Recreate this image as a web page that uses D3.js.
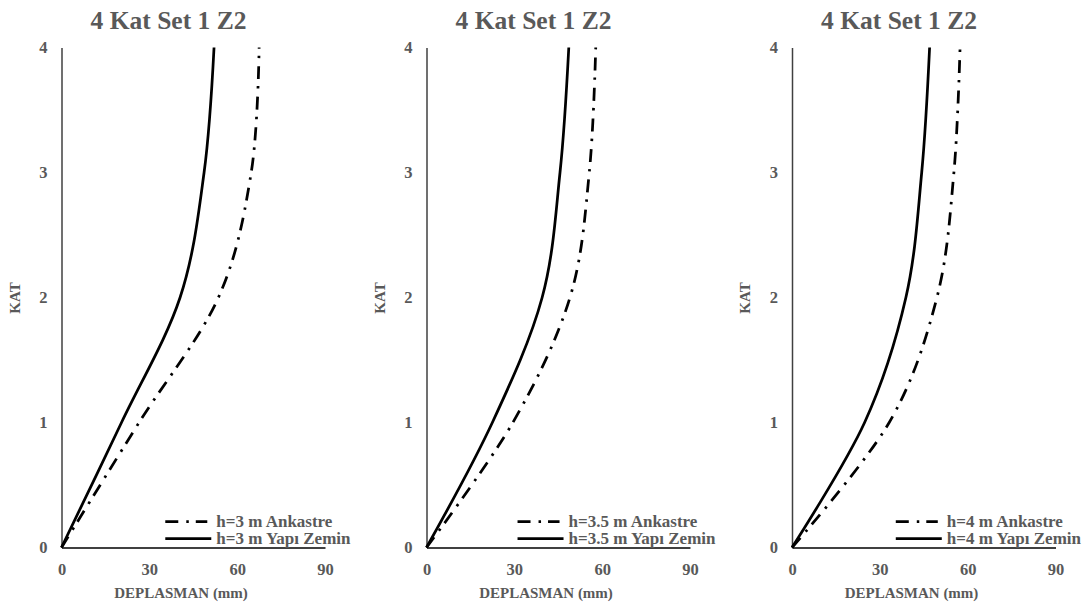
<!DOCTYPE html>
<html><head><meta charset="utf-8">
<script src="https://cdn.jsdelivr.net/npm/d3@7"></script>
<style>body{margin:0;background:#fff}svg{display:block}text{font-family:"Liberation Serif","Times New Roman",serif;font-weight:bold}</style>
</head><body>
<svg id="c" width="1088" height="608"></svg>
<script>
const floors = [0, 1, 2, 3, 4];
const xTicks = [0, 30, 60, 90];
const yTicks = [0, 1, 2, 3, 4];
const titles = ["4 Kat Set 1 Z2", "4 Kat Set 1 Z2", "4 Kat Set 1 Z2"];
const ankastreLabels = ["h=3 m Ankastre", "h=3.5 m Ankastre", "h=4 m Ankastre"];
const zeminLabels = ["h=3 m Yapı Zemin", "h=3.5 m Yapı Zemin", "h=4 m Yapı Zemin"];
const ankastre_h3 = [0, 26.5, 53.6, 64.8, 67.5];
const zemin_h3 = [0, 20.5, 40.5, 48.7, 52.1];
const ankastre_h35 = [0, 29.5, 49.0, 55.6, 57.8];
const zemin_h35 = [0, 22.5, 39.5, 45.6, 48.6];
const ankastre_h4 = [0, 33.2, 49.5, 55.3, 57.4];
const zemin_h4 = [0, 24.8, 38.9, 44.3, 47.0];
const xTitle = "DEPLASMAN (mm)";
const yTitle = "KAT";

const ankastreSeries = [ankastre_h3, ankastre_h35, ankastre_h4];
const zeminSeries = [zemin_h3, zemin_h35, zemin_h4];

const svg = d3.select("#c");
const gray = "#595959";
const x0s = [61.5, 426.5, 792];
const plotW = 263.5;
const yTop = 47.5, yBot = 547.5;
const DASH = "13,8,2.5,7";
const FF = '"Liberation Serif","Times New Roman",serif';

x0s.forEach((x0, i) => {
  const g = svg.append("g");
  const x = d3.scaleLinear().domain([0, 90]).range([x0, x0 + plotW]);
  const y = d3.scaleLinear().domain([0, 4]).range([yBot, yTop]);

  const ya = g.append("g").attr("transform", `translate(${x0},0)`)
    .call(d3.axisLeft(y).tickValues(yTicks).tickSize(0).tickPadding(14).tickFormat(d3.format("d")));
  ya.attr("font-family", null).attr("font-size", null);
  ya.select(".domain").attr("stroke", "#404040").attr("stroke-width", 1.5);
  ya.selectAll("text").attr("fill", gray).style("font-size", "16.5px")
    .style("font-family", FF).style("font-weight", "bold");

  const xa = g.append("g").attr("transform", `translate(0,${yBot})`)
    .call(d3.axisBottom(x).tickValues(xTicks).tickSize(0).tickPadding(16).tickFormat(d3.format("d")));
  xa.attr("font-family", null).attr("font-size", null);
  xa.select(".domain").attr("stroke", "#000").attr("stroke-width", 1.5);
  xa.selectAll("text").attr("fill", gray).style("font-size", "16.5px")
    .style("font-family", FF).style("font-weight", "bold");

  const line = d3.line()
    .x(d => x(d[0])).y(d => y(d[1]))
    .curve(d3.curveCardinal.tension(0));

  g.append("path").datum(ankastreSeries[i].map((v, k) => [v, floors[k]]))
    .attr("d", line).attr("fill", "none").attr("stroke", "#000")
    .attr("stroke-width", 2.75).attr("stroke-dasharray", DASH);
  g.append("path").datum(zeminSeries[i].map((v, k) => [v, floors[k]]))
    .attr("d", line).attr("fill", "none").attr("stroke", "#000")
    .attr("stroke-width", 2.75);

  g.append("text").attr("x", x0 + 107).attr("y", 28.5).attr("text-anchor", "middle")
    .attr("fill", gray).style("font-size", "25.5px").text(titles[i]);
  g.append("text").attr("x", x0 + 119.5).attr("y", 598).attr("text-anchor", "middle")
    .attr("fill", gray).style("font-size", "15px").text(xTitle);
  g.append("text").attr("transform", `translate(${x0 - 42},298) rotate(-90)`)
    .attr("text-anchor", "middle").attr("fill", gray).style("font-size", "15px").text(yTitle);

  const leg = g.append("g");
  const t1 = leg.append("text").attr("y", 521.5).attr("dy", "0.35em").attr("fill", gray)
    .style("font-size", "17px").text(ankastreLabels[i]);
  const t2 = leg.append("text").attr("y", 538.5).attr("dy", "0.35em").attr("fill", gray)
    .style("font-size", "17px").text(zeminLabels[i]);
  const w = Math.max(t1.node().getComputedTextLength(), t2.node().getComputedTextLength());
  const tx = x0 + 289 - w;
  t1.attr("x", tx); t2.attr("x", tx);
  leg.append("line").attr("x1", tx - 51).attr("x2", tx - 9).attr("y1", 521.5).attr("y2", 521.5)
    .attr("stroke", "#000").attr("stroke-width", 2.75).attr("stroke-dasharray", DASH);
  leg.append("line").attr("x1", tx - 51).attr("x2", tx - 5).attr("y1", 538.5).attr("y2", 538.5)
    .attr("stroke", "#000").attr("stroke-width", 2.75);
});
</script>
</body></html>
